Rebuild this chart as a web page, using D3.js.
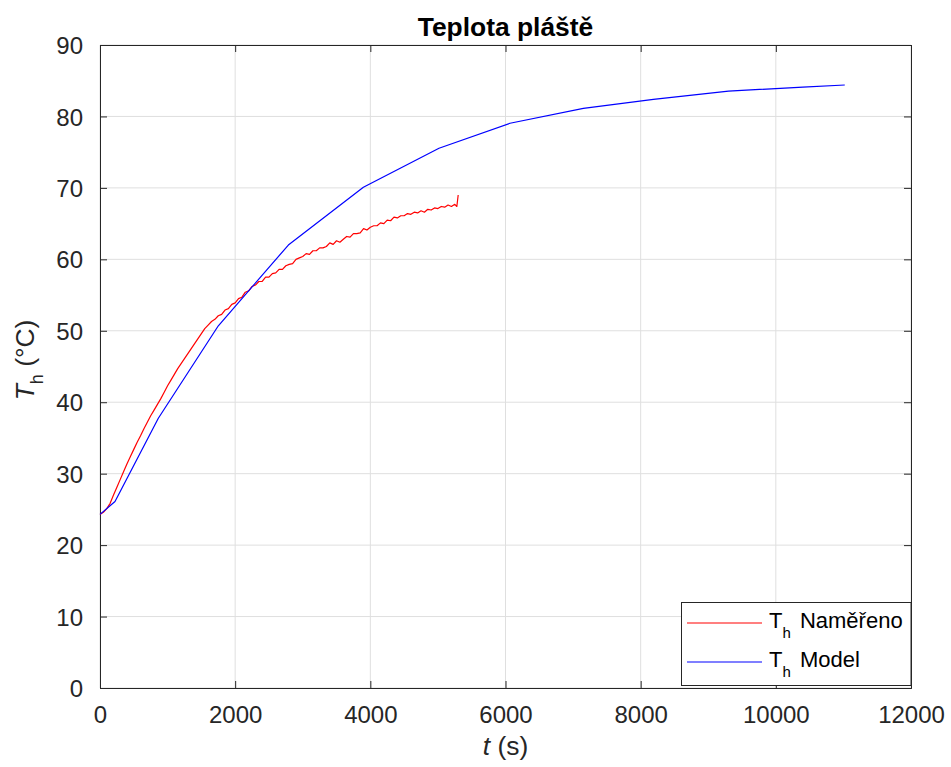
<!DOCTYPE html>
<html>
<head>
<meta charset="utf-8">
<script src="https://cdn.jsdelivr.net/npm/d3@7/dist/d3.min.js"></script>
<style>
  html, body { margin: 0; padding: 0; background: #ffffff; }
  svg { display: block; }
  text { font-family: "Liberation Sans", Arial, Helvetica, sans-serif; }
</style>
</head>
<body>
<svg id="chart" width="951" height="767"></svg>
<script>
// ---------------- DATA ----------------
const title = "Teplota pláště";
const xTicks = [0, 2000, 4000, 6000, 8000, 10000, 12000];
const yTicks = [0, 10, 20, 30, 40, 50, 60, 70, 80, 90];
const seriesNames = ["Naměřeno", "Model"];

// Measured (red)
const measT = [0,50,100,150,200,250,300,350,400,450,500,550,600,650,700,750,800,850,900,950,
  1000,1050,1100,1150,1200,1250,1300,1350,1400,1450,1500,1550,1600,1650,1700,1750,1800,1850,1900,1950,
  2000,2050,2100,2150,2200,2250,2300,2350,2400,2450,2500,2550,2600,2650,2700,2750,2800,2850,2900,2950,
  3000,3050,3100,3150,3200,3250,3300,3350,3400,3450,3500,3550,3600,3650,3700,3750,3800,3850,3900,3950,
  4000,4050,4100,4150,4200,4250,4300,4350,4400,4450,4500,4550,4600,4650,4700,4750,4800,4850,4900,4950,
  5000,5050,5100,5150,5200,5250,5280,5300];
const measVal = [24.3,24.6,25.1,25.85,27.0,28.1,29.2,30.3,31.4,32.4,33.4,34.4,35.3,36.3,37.2,38.1,38.9,39.7,40.5,41.4,
  42.3,43.1,43.9,44.7,45.4,46.1,46.8,47.5,48.2,48.9,49.6,50.3,50.8,51.3,51.6,52.1,52.3,52.9,53.1,53.7,
  53.9,54.5,54.7,55.4,55.6,56.2,56.4,56.9,56.9,57.5,57.5,58.0,58.1,58.6,58.6,59.1,59.3,59.4,60.0,60.2,
  60.4,60.8,60.7,61.2,61.2,61.6,61.6,61.8,62.3,62.1,62.6,62.4,62.8,63.2,63.1,63.6,63.6,63.7,64.3,64.1,
  64.5,64.7,64.7,65.1,65.0,65.5,65.4,65.9,65.8,66.1,66.1,66.4,66.3,66.6,66.5,66.8,66.6,67.0,66.9,67.2,
  67.1,67.4,67.3,67.6,67.4,67.7,67.4,69.0];

// Model (blue)
const modelT = [0, 222, 863, 1751, 2787, 3897, 5016, 6067, 7152, 8188, 9300, 10400, 11020];
const modelVal = [24.3, 26.1, 37.75, 50.7, 62.0, 70.1, 75.55, 79.05, 81.14, 82.4, 83.55, 84.1, 84.4];

// ---------------- CHART ----------------
const svg = d3.select("#chart");
const L = 100, R = 911, T = 45, B = 688;
const x = d3.scaleLinear().domain([0, 12000]).range([L, R]);
const y = d3.scaleLinear().domain([0, 90]).range([B, T]);
const axisColor = "#262626";
const gridColor = "#dfdfdf";

// grid
const grid = svg.append("g");
grid.selectAll("line.gx").data(xTicks).enter().append("line")
  .attr("x1", d => x(d)).attr("x2", d => x(d)).attr("y1", T).attr("y2", B)
  .attr("stroke", gridColor).attr("stroke-width", 1);
grid.selectAll("line.gy").data(yTicks).enter().append("line")
  .attr("y1", d => y(d)).attr("y2", d => y(d)).attr("x1", L).attr("x2", R)
  .attr("stroke", gridColor).attr("stroke-width", 1);

// axes
const tickLen = 7;
const xAxisB = d3.axisBottom(x).tickValues(xTicks).tickSize(-tickLen).tickPadding(tickLen + 11).tickFormat(d3.format("d"));
const xAxisT = d3.axisTop(x).tickValues(xTicks).tickSize(-tickLen).tickFormat("");
const yAxisL = d3.axisLeft(y).tickValues(yTicks).tickSize(-tickLen).tickPadding(tickLen + 10).tickFormat(d3.format("d"));
const yAxisR = d3.axisRight(y).tickValues(yTicks).tickSize(-tickLen).tickFormat("");

function styleAxis(g) {
  g.selectAll("path.domain").attr("stroke", axisColor).attr("stroke-width", 1);
  g.selectAll(".tick line").attr("stroke", axisColor).attr("stroke-width", 1);
  g.selectAll(".tick text").attr("fill", axisColor).style("font-size", "24px")
    .style("font-family", '"Liberation Sans", Arial, Helvetica, sans-serif');
}
const gxb = svg.append("g").attr("transform", `translate(0,${B})`).call(xAxisB);
const gxt = svg.append("g").attr("transform", `translate(0,${T})`).call(xAxisT);
const gyl = svg.append("g").attr("transform", `translate(${L},0)`).call(yAxisL);
const gyr = svg.append("g").attr("transform", `translate(${R},0)`).call(yAxisR);
[gxb, gxt, gyl, gyr].forEach(styleAxis);
gxb.selectAll(".tick text").attr("dy", null).attr("y", 35);
gyl.selectAll(".tick text").attr("dy", "0.36em");

// lines
const line = d3.line().x(d => x(d[0])).y(d => y(d[1]));
const measData = measT.map((t, i) => [t, measVal[i]]);
const modelData = modelT.map((t, i) => [t, modelVal[i]]);
svg.append("path").datum(measData).attr("d", line)
  .attr("fill", "none").attr("stroke", "#ff0000").attr("stroke-width", 1.2).attr("stroke-linejoin", "round");
svg.append("path").datum(modelData).attr("d", line)
  .attr("fill", "none").attr("stroke", "#0000ff").attr("stroke-width", 1.2).attr("stroke-linejoin", "round");

// title
svg.append("text").attr("x", (L + R) / 2).attr("y", 36).attr("text-anchor", "middle")
  .style("font-size", "26.4px").style("font-weight", "bold").attr("fill", "#000").text(title);

// x label
const xl = svg.append("text").attr("x", (L + R) / 2).attr("y", 755).attr("text-anchor", "middle")
  .style("font-size", "26.4px").attr("fill", axisColor);
xl.append("tspan").style("font-style", "italic").text("t");
xl.append("tspan").text(" (s)");

// y label
const yl = svg.append("text").attr("transform", "translate(34,360) rotate(-90)").attr("text-anchor", "middle")
  .style("font-size", "26.4px").attr("fill", axisColor);
yl.append("tspan").style("font-style", "italic").text("T");
yl.append("tspan").attr("dy", 9).style("font-size", "18px").text("h");
yl.append("tspan").attr("dy", -9).text(" (°C)");

// legend
const lg = svg.append("g");
lg.append("rect").attr("x", 681.5).attr("y", 602.5).attr("width", 229.5).attr("height", 83)
  .attr("fill", "#fff").attr("stroke", axisColor).attr("stroke-width", 1);
const legendColors = ["#ff0000", "#0000ff"];
const rows = [623, 662];
seriesNames.forEach((name, i) => {
  lg.append("line").attr("x1", 687).attr("x2", 762).attr("y1", rows[i]).attr("y2", rows[i])
    .attr("stroke", legendColors[i]).attr("stroke-width", 1.2);
  const t = lg.append("text").attr("x", 769).attr("y", rows[i] + 4.5)
    .style("font-size", "22px").attr("fill", "#000");
  t.append("tspan").text("T");
  t.append("tspan").attr("dy", 10).style("font-size", "15px").text("h");
  t.append("tspan").attr("dy", -10).attr("dx", 3).text(name);
  t.select("tspan:last-child").text(" " + name);
});
</script>
</body>
</html>
